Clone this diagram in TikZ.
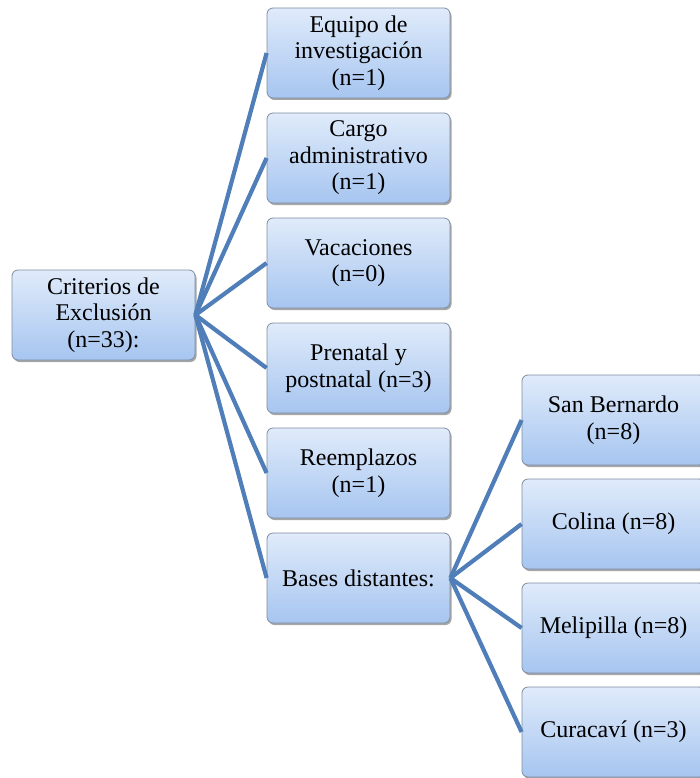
\documentclass[tikz,border=0pt]{standalone}
\usepackage{fontspec}
\setmainfont{Liberation Serif}
\usetikzlibrary{shadows}
\definecolor{boxtop}{HTML}{E0EBFA}
\definecolor{boxbot}{HTML}{A6C5F0}
\definecolor{boxline}{HTML}{7F8DA2}
\definecolor{linkblue}{HTML}{4F7EB8}
\tikzset{
  cbox/.style={rectangle, rounded corners=6pt, draw=boxline, line width=0.8pt,
    top color=boxtop, bottom color=boxbot,
    minimum width=183pt, minimum height=90pt, text width=178pt, align=flush center,
    inner sep=0pt, font=\fontsize{24}{26.5}\selectfont,
    drop shadow={shadow xshift=1.5pt, shadow yshift=-2pt, opacity=0.35, fill=black}},
  link/.style={draw=linkblue, line width=4.2pt}
}
\begin{document}
\begin{tikzpicture}[x=1pt,y=-1pt]
\useasboundingbox (0,0) rectangle (699,778);
\node[cbox] (root) at (103.5,315) {Criterios de\\Exclusión\\(n=33):};
\node[cbox] (m1) at (358.5,53) {Equipo de\\investigación\\(n=1)};
\node[cbox] (m2) at (358.5,158) {Cargo\\administrativo\\(n=1)};
\node[cbox] (m3) at (358.5,263) {Vacaciones\\(n=0)};
\node[cbox] (m4) at (358.5,368) {Prenatal y\\postnatal (n=3)};
\node[cbox] (m5) at (358.5,473) {Reemplazos\\(n=1)};
\node[cbox] (m6) at (358.5,578) {Bases distantes:};
\node[cbox] (r1) at (613.5,420) {San Bernardo\\(n=8)};
\node[cbox] (r2) at (613.5,524) {Colina (n=8)};
\node[cbox] (r3) at (613.5,628) {Melipilla (n=8)};
\node[cbox] (r4) at (613.5,732) {Curacaví (n=3)};
\foreach \m in {m1,m2,m3,m4,m5,m6} \draw[link] (root.east) -- (\m.west);
\foreach \r in {r1,r2,r3,r4} \draw[link] (m6.east) -- (\r.west);
\end{tikzpicture}
\end{document}
